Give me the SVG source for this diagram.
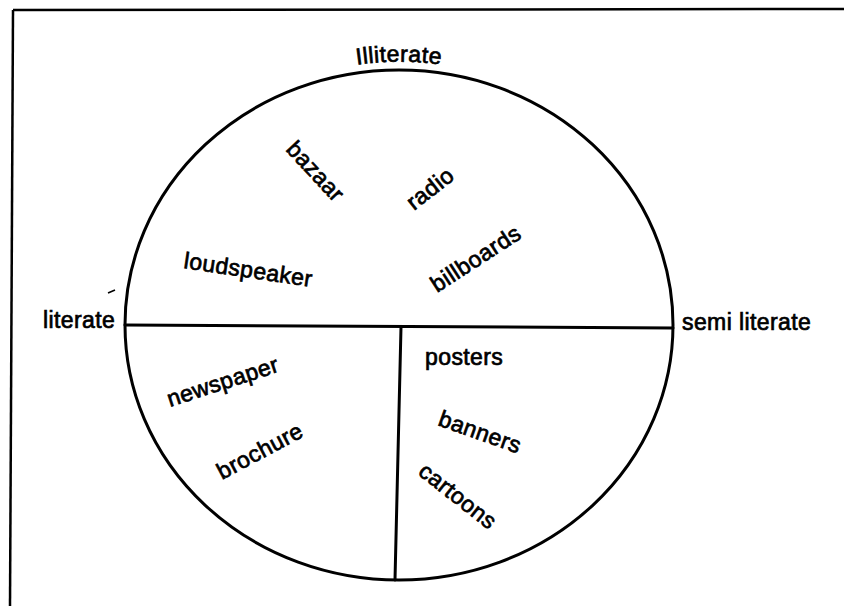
<svg xmlns="http://www.w3.org/2000/svg" width="844" height="606" viewBox="0 0 844 606">
<style>
.ln{fill:none;stroke:#000;stroke-width:3;stroke-linecap:round}
.fr{fill:none;stroke:#000;stroke-width:2.5}
.t{font-family:"Liberation Sans",Arial,Helvetica,sans-serif;font-size:23px;letter-spacing:0.4px;fill:#000;stroke:#000;stroke-width:0.7}
</style>
<defs>
<path id="arcTop" d="M 249,102 A 282 263 0 0 1 549 102"/>
</defs>
<rect width="844" height="606" fill="#fff"/>
<g id="frame">
<path class="fr" d="M 13,10 L 844,9"/>
<path class="fr" d="M 13,10 L 10,606"/>
</g>
<g id="circle">
<ellipse class="ln" cx="399" cy="325" rx="274" ry="255"/>
</g>
<g id="connectors">
<path class="ln" d="M 125,325 L 673,328"/>
<path class="ln" d="M 401,327 L 395,580"/>
<path d="M 108,293 L 115,290" stroke="#000" stroke-width="1.6"/>
</g>
<g id="illiterate"><text class="t"><textPath href="#arcTop" startOffset="50%" text-anchor="middle">Illiterate</textPath></text></g>
<g id="literate"><text class="t" x="43" y="328">literate</text></g>
<g id="semi-literate"><text class="t" x="682" y="330">semi literate</text></g>
<g id="bazaar"><text class="t" transform="translate(285,150) rotate(47)">bazaar</text></g>
<g id="radio"><text class="t" transform="translate(414,211) rotate(-38)">radio</text></g>
<g id="loudspeaker"><text class="t" transform="translate(183,268) rotate(8.4)">loudspeaker</text></g>
<g id="billboards"><text class="t" transform="translate(437,293) rotate(-33)">billboards</text></g>
<g id="newspaper"><text class="t" transform="translate(170,407) rotate(-18)">newspaper</text></g>
<g id="brochure"><text class="t" transform="translate(222,480) rotate(-28)">brochure</text></g>
<g id="posters"><text class="t" x="425" y="365">posters</text></g>
<g id="banners"><text class="t" transform="translate(437,425) rotate(19.5)">banners</text></g>
<g id="cartoons"><text class="t" transform="translate(417,474) rotate(38)">cartoons</text></g>
</svg>
